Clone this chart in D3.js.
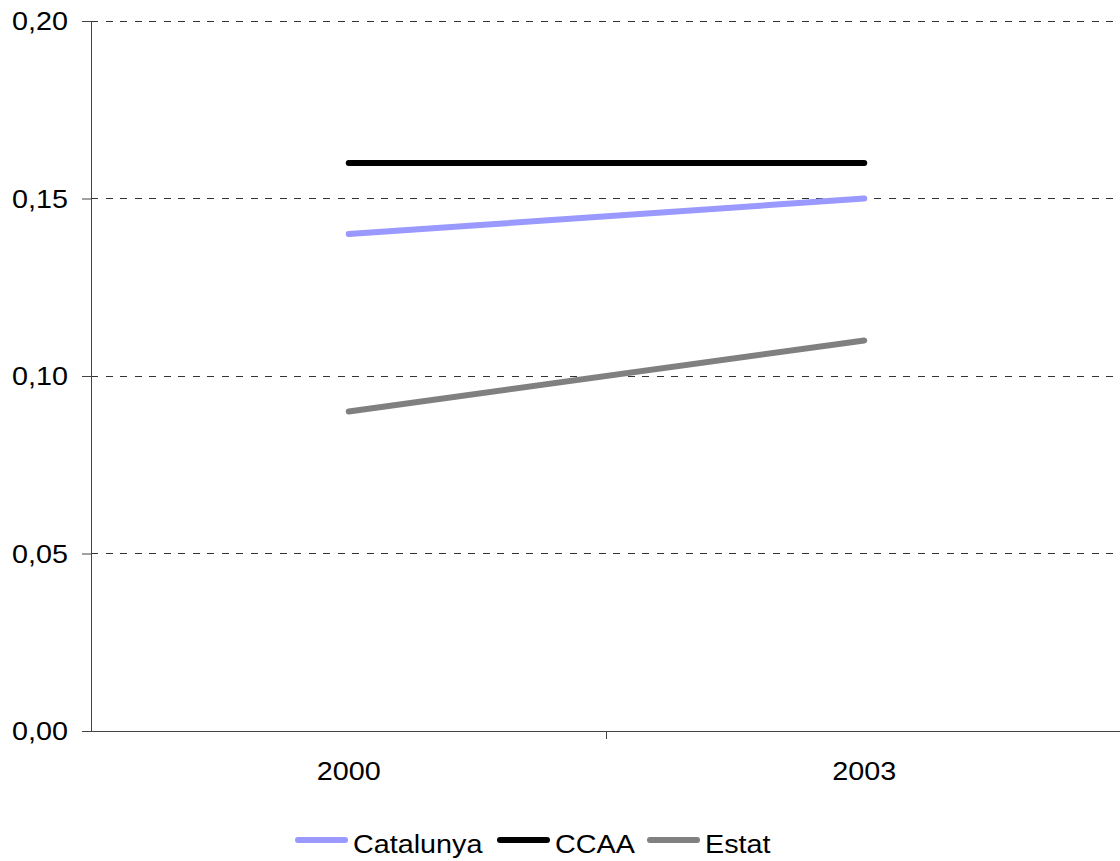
<!DOCTYPE html>
<html><head><meta charset="utf-8">
<script src="https://cdn.jsdelivr.net/npm/d3@7"></script>
<style>body{margin:0;background:#fff}svg{display:block}text{font-family:"Liberation Sans",Arial,Helvetica,sans-serif}</style>
</head><body>
<script>
const years = ["2000", "2003"];
const catalunya = [0.14, 0.15];
const ccaa = [0.16, 0.16];
const estat = [0.09, 0.11];
const yTicks = [0, 0.05, 0.10, 0.15, 0.20];
const seriesNames = ["Catalunya", "CCAA", "Estat"];
const seriesColors = ["#9999FF", "#000000", "#808080"];

const W = 1120, H = 861;
const m = {left: 91, top: 21, right: -2, bottom: 130};
const FS = 25, SX = 1.15;
const svg = d3.select("body").append("svg").attr("width", W).attr("height", H);
const x = d3.scaleBand().domain(years).range([m.left, W - m.right]);
const y = d3.scaleLinear().domain([0, 0.2]).range([H - m.bottom, m.top]);
const fmt = d => d3.format(".2f")(d).replace(".", ",");

function label(g, tx, ty, str, anchor) {
  return g.append("text").attr("transform", `translate(${tx},${ty}) scale(${SX},1)`)
    .attr("text-anchor", anchor).attr("font-size", FS).attr("fill", "#000").text(str);
}

// gridlines
svg.append("g").selectAll("line").data(yTicks.filter(d => d > 0)).join("line")
  .attr("x1", m.left).attr("x2", W).attr("y1", d => y(d)).attr("y2", d => y(d))
  .attr("stroke", "#333").attr("stroke-width", 1).attr("stroke-dasharray", "7,7.5")
  .attr("shape-rendering", "crispEdges");

// y axis
const ya = svg.append("g").attr("transform", `translate(${m.left},0)`)
  .call(d3.axisLeft(y).tickValues(yTicks).tickFormat("").tickSize(9));
ya.select(".domain").attr("stroke", "#444");
ya.selectAll(".tick line").attr("stroke", "#444");
const yl = svg.append("g");
yTicks.forEach(t => label(yl, 68, y(t) + 9, fmt(t), "end"));

// x axis
const xa = svg.append("g").attr("transform", `translate(0,${y(0)})`);
xa.append("line").attr("x1", m.left).attr("x2", W).attr("stroke", "#444").attr("shape-rendering", "crispEdges");
const bounds = [x("2000") + x.bandwidth()];
xa.selectAll(".tk").data(bounds).join("line").attr("class", "tk")
  .attr("x1", d => d).attr("x2", d => d).attr("y1", 0).attr("y2", 8).attr("stroke", "#444")
  .attr("shape-rendering", "crispEdges");
years.forEach(d => label(xa, x(d) + x.bandwidth() / 2, 49, d, "middle"));

// lines
const data = [catalunya, ccaa, estat];
const line = d3.line().x((d, i) => x(years[i]) + x.bandwidth() / 2).y(d => y(d));
svg.append("g").selectAll("path").data(data).join("path")
  .attr("d", line).attr("fill", "none")
  .attr("stroke", (d, i) => seriesColors[i]).attr("stroke-width", 6)
  .attr("stroke-linecap", "round");

// legend
const legX = [298, 500, 650];
const lg = svg.append("g");
seriesNames.forEach((n, i) => {
  lg.append("line").attr("x1", legX[i]).attr("x2", legX[i] + 47).attr("y1", 840).attr("y2", 840)
    .attr("stroke", seriesColors[i]).attr("stroke-width", 6).attr("stroke-linecap", "round");
  label(lg, legX[i] + 55, 853, n, "start");
});
</script>
</body></html>
